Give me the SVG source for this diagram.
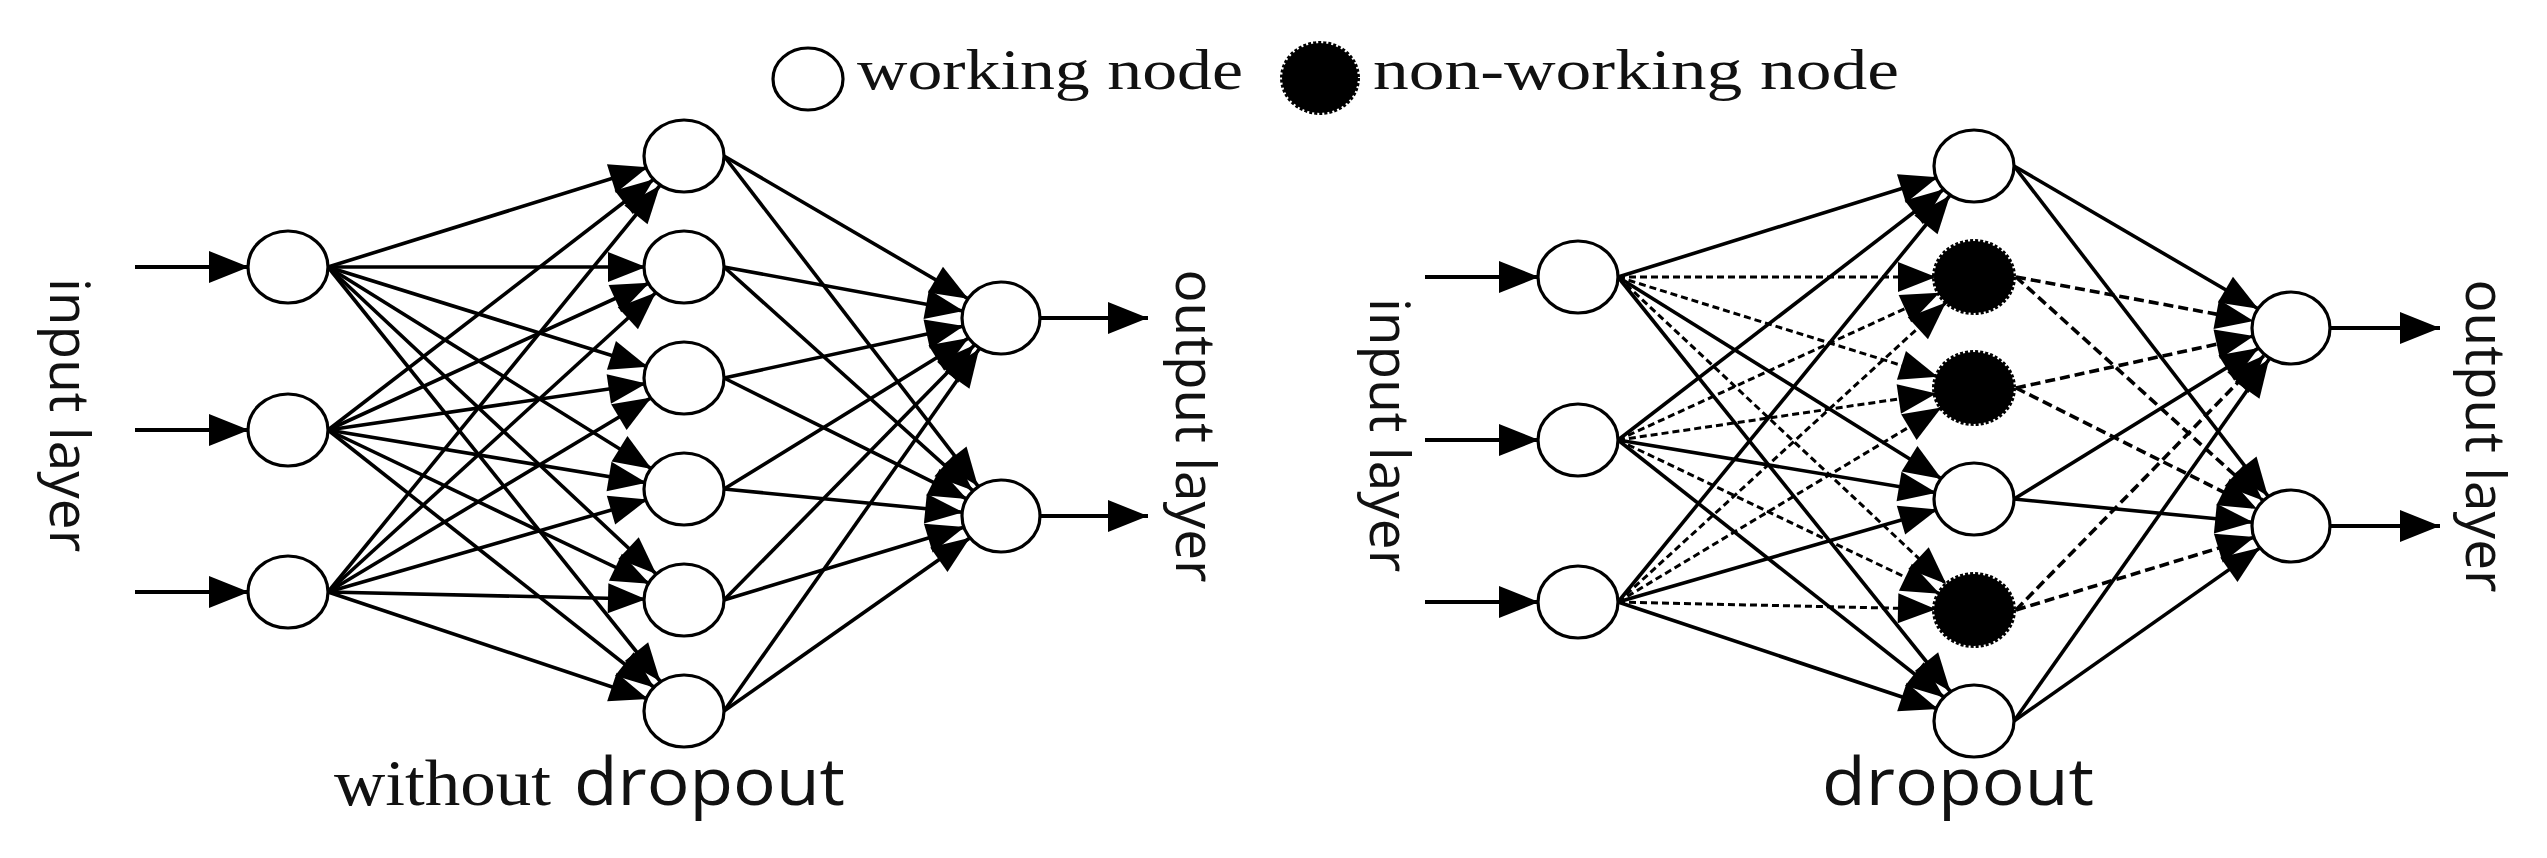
<svg xmlns="http://www.w3.org/2000/svg" width="2547" height="858" viewBox="0 0 2547 858">
<style>
.c line{stroke:#000;stroke-width:3.6;fill:none}
.c .s{marker-end:url(#ah)}
.c .di{stroke-width:3;stroke-dasharray:7 4;marker-end:url(#ah)}
.c .do{stroke-width:3.6;stroke-dasharray:10 5;marker-end:url(#ah)}
.c .o{marker-end:url(#ah)}
.c .io{stroke-width:3.8;marker-end:url(#ai)}
.n{fill:#fff;stroke:#000;stroke-width:3.2}
.b{fill:#000;stroke:#000;stroke-width:4;stroke-dasharray:3 2}
.serif{font-family:"Liberation Serif","Times New Roman",serif;fill:#111}
.sans{font-family:"Open Sans","DejaVu Sans",sans-serif;fill:#111}
</style>
<defs>
<marker id="ah" markerUnits="userSpaceOnUse" markerWidth="38" markerHeight="30" refX="76" refY="15" orient="auto" overflow="visible"><path d="M0,0 L38,15 L0,30 Z" fill="#000"/></marker>
<marker id="ai" markerUnits="userSpaceOnUse" markerWidth="40" markerHeight="32" refX="40" refY="16" orient="auto" overflow="visible"><path d="M0,0 L40,16 L0,32 Z" fill="#000"/></marker>
</defs>
<rect width="2547" height="858" fill="#fff"/>

<g id="legend">
<g id="legend-working"><ellipse class="n" cx="808" cy="79" rx="35" ry="31"/><text class="serif" x="857" y="89" font-size="58" textLength="386" lengthAdjust="spacingAndGlyphs">working node</text></g>
<g id="legend-nonworking"><ellipse class="b" cx="1320" cy="78" rx="38" ry="35"/><text class="serif" x="1373" y="89" font-size="58" textLength="526" lengthAdjust="spacingAndGlyphs">non-working node</text></g>
</g>

<g id="connectors" class="c">
<line class="io" x1="135" y1="267" x2="249" y2="267"/>
<line class="io" x1="135" y1="430" x2="249" y2="430"/>
<line class="io" x1="135" y1="592" x2="249" y2="592"/>
<line class="s" x1="328" y1="267" x2="684" y2="156"/>
<line class="s" x1="328" y1="267" x2="684" y2="267"/>
<line class="s" x1="328" y1="267" x2="684" y2="378"/>
<line class="s" x1="328" y1="267" x2="684" y2="489"/>
<line class="s" x1="328" y1="267" x2="684" y2="600"/>
<line class="s" x1="328" y1="267" x2="684" y2="711"/>
<line class="s" x1="328" y1="430" x2="684" y2="156"/>
<line class="s" x1="328" y1="430" x2="684" y2="267"/>
<line class="s" x1="328" y1="430" x2="684" y2="378"/>
<line class="s" x1="328" y1="430" x2="684" y2="489"/>
<line class="s" x1="328" y1="430" x2="684" y2="600"/>
<line class="s" x1="328" y1="430" x2="684" y2="711"/>
<line class="s" x1="328" y1="592" x2="684" y2="156"/>
<line class="s" x1="328" y1="592" x2="684" y2="267"/>
<line class="s" x1="328" y1="592" x2="684" y2="378"/>
<line class="s" x1="328" y1="592" x2="684" y2="489"/>
<line class="s" x1="328" y1="592" x2="684" y2="600"/>
<line class="s" x1="328" y1="592" x2="684" y2="711"/>
<line class="o" x1="724" y1="156" x2="1001" y2="318"/>
<line class="o" x1="724" y1="156" x2="1001" y2="516"/>
<line class="o" x1="724" y1="267" x2="1001" y2="318"/>
<line class="o" x1="724" y1="267" x2="1001" y2="516"/>
<line class="o" x1="724" y1="378" x2="1001" y2="318"/>
<line class="o" x1="724" y1="378" x2="1001" y2="516"/>
<line class="o" x1="724" y1="489" x2="1001" y2="318"/>
<line class="o" x1="724" y1="489" x2="1001" y2="516"/>
<line class="o" x1="724" y1="600" x2="1001" y2="318"/>
<line class="o" x1="724" y1="600" x2="1001" y2="516"/>
<line class="o" x1="724" y1="711" x2="1001" y2="318"/>
<line class="o" x1="724" y1="711" x2="1001" y2="516"/>
<line class="io" x1="1040" y1="318" x2="1148" y2="318"/>
<line class="io" x1="1040" y1="516" x2="1148" y2="516"/>

<line class="io" x1="1425" y1="277" x2="1539" y2="277"/>
<line class="io" x1="1425" y1="440" x2="1539" y2="440"/>
<line class="io" x1="1425" y1="602" x2="1539" y2="602"/>
<line class="s" x1="1618" y1="277" x2="1974" y2="166"/>
<line class="di" x1="1618" y1="277" x2="1974" y2="277"/>
<line class="di" x1="1618" y1="277" x2="1974" y2="388"/>
<line class="s" x1="1618" y1="277" x2="1974" y2="499"/>
<line class="di" x1="1618" y1="277" x2="1974" y2="610"/>
<line class="s" x1="1618" y1="277" x2="1974" y2="721"/>
<line class="s" x1="1618" y1="440" x2="1974" y2="166"/>
<line class="di" x1="1618" y1="440" x2="1974" y2="277"/>
<line class="di" x1="1618" y1="440" x2="1974" y2="388"/>
<line class="s" x1="1618" y1="440" x2="1974" y2="499"/>
<line class="di" x1="1618" y1="440" x2="1974" y2="610"/>
<line class="s" x1="1618" y1="440" x2="1974" y2="721"/>
<line class="s" x1="1618" y1="602" x2="1974" y2="166"/>
<line class="di" x1="1618" y1="602" x2="1974" y2="277"/>
<line class="di" x1="1618" y1="602" x2="1974" y2="388"/>
<line class="s" x1="1618" y1="602" x2="1974" y2="499"/>
<line class="di" x1="1618" y1="602" x2="1974" y2="610"/>
<line class="s" x1="1618" y1="602" x2="1974" y2="721"/>
<line class="o" x1="2014" y1="166" x2="2291" y2="328"/>
<line class="o" x1="2014" y1="166" x2="2291" y2="526"/>
<line class="do" x1="2016" y1="277" x2="2291" y2="328"/>
<line class="do" x1="2016" y1="277" x2="2291" y2="526"/>
<line class="do" x1="2016" y1="388" x2="2291" y2="328"/>
<line class="do" x1="2016" y1="388" x2="2291" y2="526"/>
<line class="o" x1="2014" y1="499" x2="2291" y2="328"/>
<line class="o" x1="2014" y1="499" x2="2291" y2="526"/>
<line class="do" x1="2016" y1="610" x2="2291" y2="328"/>
<line class="do" x1="2016" y1="610" x2="2291" y2="526"/>
<line class="o" x1="2014" y1="721" x2="2291" y2="328"/>
<line class="o" x1="2014" y1="721" x2="2291" y2="526"/>
<line class="io" x1="2330" y1="328" x2="2440" y2="328"/>
<line class="io" x1="2330" y1="526" x2="2440" y2="526"/>
</g>

<g id="left-network">
<g id="L-in1"><ellipse class="n" cx="288" cy="267" rx="40" ry="36"/></g>
<g id="L-in2"><ellipse class="n" cx="288" cy="430" rx="40" ry="36"/></g>
<g id="L-in3"><ellipse class="n" cx="288" cy="592" rx="40" ry="36"/></g>
<g id="L-h1"><ellipse class="n" cx="684" cy="156" rx="40" ry="36"/></g>
<g id="L-h2"><ellipse class="n" cx="684" cy="267" rx="40" ry="36"/></g>
<g id="L-h3"><ellipse class="n" cx="684" cy="378" rx="40" ry="36"/></g>
<g id="L-h4"><ellipse class="n" cx="684" cy="489" rx="40" ry="36"/></g>
<g id="L-h5"><ellipse class="n" cx="684" cy="600" rx="40" ry="36"/></g>
<g id="L-h6"><ellipse class="n" cx="684" cy="711" rx="40" ry="36"/></g>
<g id="L-out1"><ellipse class="n" cx="1001" cy="318" rx="39" ry="36"/></g>
<g id="L-out2"><ellipse class="n" cx="1001" cy="516" rx="39" ry="36"/></g>
<text class="sans" font-size="55" text-anchor="middle" transform="translate(50,415) rotate(90)">input layer</text>
<text class="sans" font-size="55" text-anchor="middle" transform="translate(1176,426) rotate(90)">output layer</text>
<text class="serif" x="334" y="805" font-size="66" textLength="217" lengthAdjust="spacingAndGlyphs">without</text>
<text class="sans" x="574" y="805" font-size="66" textLength="271" lengthAdjust="spacingAndGlyphs">dropout</text>
</g>

<g id="right-network">
<g id="R-in1"><ellipse class="n" cx="1578" cy="277" rx="40" ry="36"/></g>
<g id="R-in2"><ellipse class="n" cx="1578" cy="440" rx="40" ry="36"/></g>
<g id="R-in3"><ellipse class="n" cx="1578" cy="602" rx="40" ry="36"/></g>
<g id="R-h1"><ellipse class="n" cx="1974" cy="166" rx="40" ry="36"/></g>
<g id="R-h2"><ellipse class="b" cx="1974" cy="277" rx="40" ry="36"/></g>
<g id="R-h3"><ellipse class="b" cx="1974" cy="388" rx="40" ry="36"/></g>
<g id="R-h4"><ellipse class="n" cx="1974" cy="499" rx="40" ry="36"/></g>
<g id="R-h5"><ellipse class="b" cx="1974" cy="610" rx="40" ry="36"/></g>
<g id="R-h6"><ellipse class="n" cx="1974" cy="721" rx="40" ry="36"/></g>
<g id="R-out1"><ellipse class="n" cx="2291" cy="328" rx="39" ry="36"/></g>
<g id="R-out2"><ellipse class="n" cx="2291" cy="526" rx="39" ry="36"/></g>
<text class="sans" font-size="55" text-anchor="middle" transform="translate(1370,435) rotate(90)">input layer</text>
<text class="sans" font-size="55" text-anchor="middle" transform="translate(2466,436) rotate(90)">output layer</text>
<text class="sans" x="1822" y="805" font-size="66" textLength="272" lengthAdjust="spacingAndGlyphs">dropout</text>
</g>
</svg>
